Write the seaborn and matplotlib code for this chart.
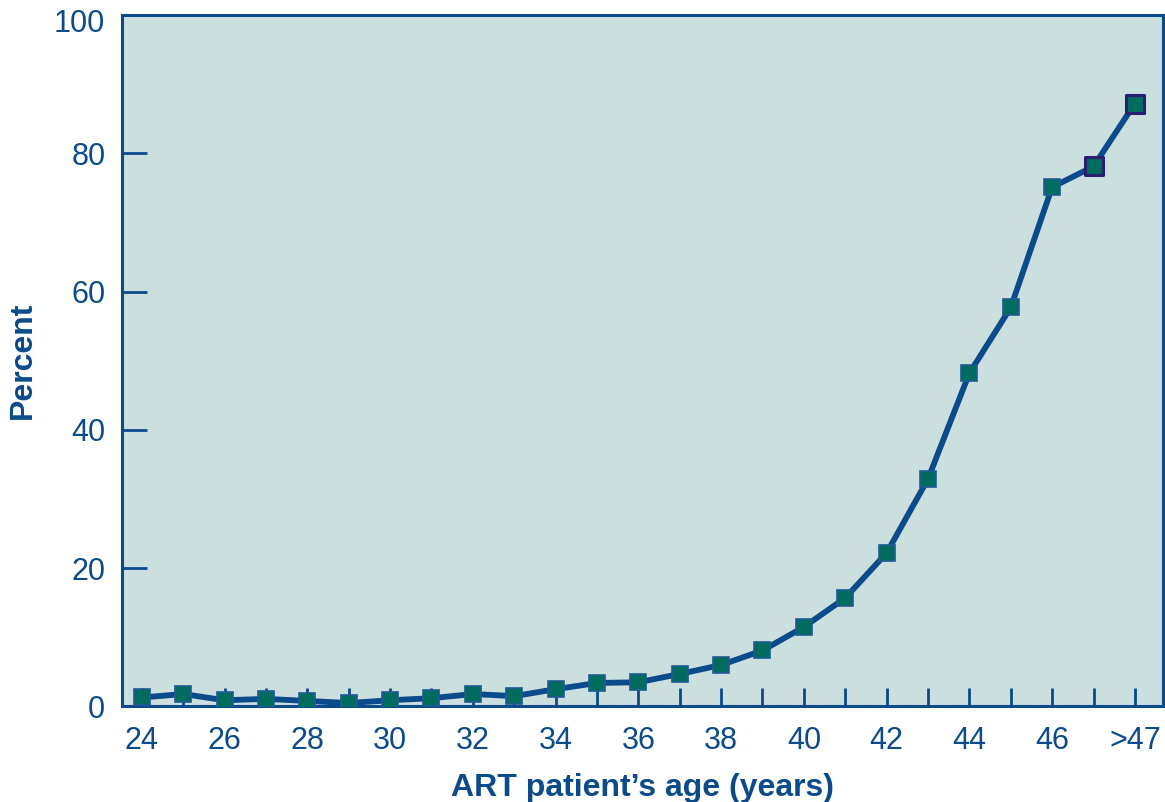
import matplotlib
matplotlib.use("Agg")
import matplotlib.pyplot as plt
import matplotlib.transforms as mtransforms
import seaborn as sns
import pandas as pd

# Age groups (years) and percentage at each age
ages = ["24", "25", "26", "27", "28", "29", "30", "31", "32", "33", "34", "35",
        "36", "37", "38", "39", "40", "41", "42", "43", "44", "45", "46", "47", ">47"]
percent = [1.3, 1.8, 0.9, 1.1, 0.8, 0.5, 0.9, 1.2, 1.8, 1.5, 2.5, 3.4,
           3.5, 4.7, 6.0, 8.1, 11.5, 15.7, 22.2, 32.9, 48.2, 57.7, 75.1, 78.1, 87.2]
tick_labels = ["24", "26", "28", "30", "32", "34", "36", "38", "40", "42", "44", "46", ">47"]
y_ticks = [0, 20, 40, 60, 80, 100]

BLUE = "#0b4a8b"
TEAL = "#006b5f"
EDGE = "#1f5b93"
NAVY = "#2b1f70"
BG = "#cbdfdf"

sns.set_theme(style="white")
plt.rcParams["font.family"] = ["Liberation Sans", "DejaVu Sans"]

df = pd.DataFrame({"pos": range(len(ages)), "age": ages, "percent": percent})

fig = plt.figure(figsize=(11.65, 8.02), dpi=100)
ax = fig.add_axes([0.1047, 0.1191, 0.8936, 0.8622])
ax.set_facecolor(BG)

sns.lineplot(data=df, x="pos", y="percent", ax=ax, color=BLUE, linewidth=4.2,
             marker="s", markersize=12, markerfacecolor=TEAL,
             markeredgecolor=EDGE, markeredgewidth=1.2, zorder=3)

# the two oldest groups carry a darker marker outline
last = df.tail(2)
sns.scatterplot(data=last, x="pos", y="percent", ax=ax, marker="s", s=150,
                color=TEAL, edgecolor=NAVY, linewidth=2.2, zorder=4)

ax.set_xlim(-0.48, 24.68)
ax.set_ylim(0, 100)

ax.set_xticks(df["pos"])
labels = []
for a in ages:
    if a in tick_labels:
        labels.append(a)
    else:
        labels.append("")
ax.set_xticklabels(labels)
ax.set_yticks(y_ticks)

ax.tick_params(axis="x", bottom=True, direction="in", length=13, width=2,
               color=BLUE, labelcolor=BLUE, labelsize=22, pad=14)
ax.tick_params(axis="y", left=True, direction="in", length=18, width=2,
               color=BLUE, labelcolor=BLUE, labelsize=22, pad=12)

# nudge the top y label down so it sits just below the frame corner
top_label = ax.get_yticklabels()[-1]
top_label.set_transform(top_label.get_transform() +
                        mtransforms.ScaledTranslation(0, -6 / 100, fig.dpi_scale_trans))

for sp in ax.spines.values():
    sp.set_color(BLUE)
    sp.set_linewidth(2.2)
    sp.set_visible(True)

ax.set_xlabel("ART patient\u2019s age (years)", fontsize=23, fontweight="bold",
              color=BLUE, labelpad=12)
ax.set_ylabel("Percent", fontsize=23, fontweight="bold", color=BLUE, labelpad=12)

fig.savefig("out.png", dpi=100, facecolor="white")
